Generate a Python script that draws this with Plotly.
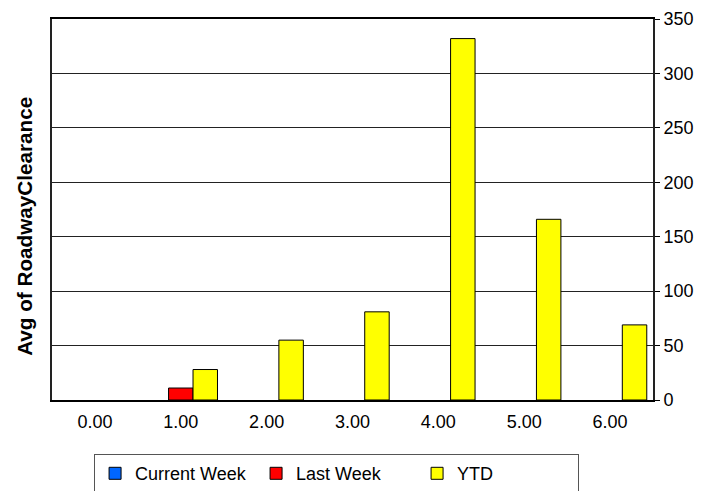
import plotly.graph_objects as go

categories = ["0.00", "1.00", "2.00", "3.00", "4.00", "5.00", "6.00"]
current_week = [None, None, None, None, None, None, None]
last_week = [None, 11, None, None, None, None, None]
ytd = [None, 28, 55, 81, 332, 166, 69]
y_ticks = [0, 50, 100, 150, 200, 250, 300, 350]

FONT = "Liberation Sans, Arial, sans-serif"

fig = go.Figure()
for name, vals, color in [("Current Week", current_week, "#0066ff"),
                          ("Last Week", last_week, "#ff0000"),
                          ("YTD", ytd, "#ffff00")]:
    fig.add_trace(go.Bar(x=categories, y=vals, name=name,
                         marker=dict(color=color, line=dict(color="#000000", width=1))))

fig.update_layout(
    width=703, height=491,
    margin=dict(l=52, r=50, t=19, b=91, autoexpand=False),
    paper_bgcolor="white", plot_bgcolor="white",
    barmode="group", bargap=0.145, bargroupgap=0,
    font=dict(family=FONT, size=18, color="#000000"),
    showlegend=True,
    legend=dict(orientation="h", x=0.07, xanchor="left", y=-0.142, yanchor="top",
                bordercolor="#555555", borderwidth=1, bgcolor="white",
                entrywidth=116, entrywidthmode="pixels",
                font=dict(family=FONT, size=18)),
    annotations=[dict(text="<b>Avg of RoadwayClearance</b>", textangle=-90,
                      xref="paper", yref="paper", x=-0.045, y=0.457,
                      xanchor="center", yanchor="middle", showarrow=False,
                      font=dict(family=FONT, size=20.7))],
)
fig.update_xaxes(type="category", categoryorder="array", categoryarray=categories,
                 showline=True, linecolor="#000000", linewidth=2, mirror=True,
                 showgrid=False, ticks="", tickfont=dict(size=18), automargin=False,
                 ticklabelstandoff=4)
fig.update_yaxes(side="right", range=[0, 350], tickvals=y_ticks,
                 showgrid=True, gridcolor="#222222", gridwidth=1,
                 showline=True, linecolor="#222222", linewidth=2, mirror=True,
                 ticks="outside", ticklen=5, tickcolor="#000000",
                 tickfont=dict(size=18), zeroline=False, automargin=False)

fig.write_html("out.html", config={"displayModeBar": False},
               post_script="document.body.style.margin='0';")
